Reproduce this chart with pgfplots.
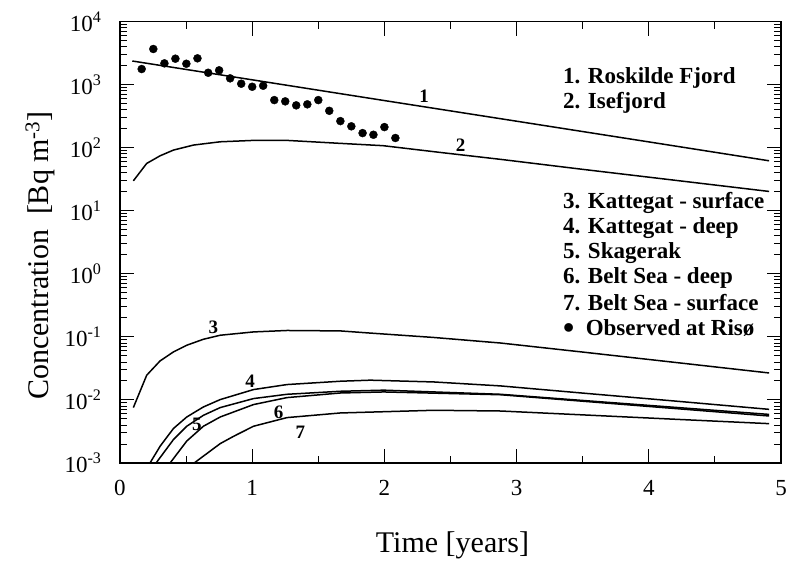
\documentclass[border=0pt]{standalone}
\usepackage{fontspec}
\setmainfont{Liberation Serif}
\usepackage{pgfplots}
\pgfplotsset{compat=1.18}

\pgfplotsset{
  curve/.style={black, solid, no markers, line width=1.5bp, line join=round},
}
\tikzset{
  curvelabel/.style={font=\fontsize{19bp}{21bp}\selectfont\bfseries, inner sep=0pt},
  legtext/.style={font=\fontsize{23bp}{25bp}\selectfont\bfseries, anchor=west, inner sep=0pt},
}

\begin{document}
\begin{tikzpicture}
\begin{axis}[
  name=ax,
  scale only axis,
  width=661bp,
  height=441.3bp,
  xmin=0, xmax=5,
  ymode=log,
  ymin=1e-3, ymax=1e4,
  xtick={0,1,2,3,4,5},
  minor x tick num=1,
  ytick={1e-3,1e-2,1e-1,1,1e1,1e2,1e3,1e4},
  yticklabels={10\textsuperscript{-3},10\textsuperscript{-2},10\textsuperscript{-1},
    10\textsuperscript{0},10\textsuperscript{1},10\textsuperscript{2},
    10\textsuperscript{3},10\textsuperscript{4}},
  tick align=inside,
  major tick length=14bp,
  minor tick length=7bp,
  axis line style={line width=1.6bp},
  every tick/.style={black, line width=1bp},
  tick label style={font=\fontsize{23bp}{25bp}\selectfont},
  /pgf/number format/assume math mode=true,
  xticklabel shift=14bp,
  yticklabel shift=15bp,
  xlabel={Time [years]},
  ylabel={Concentration\ \ [Bq m\textsuperscript{-3}]},
  every axis x label/.style={at={(axis description cs:0.503,-0.186)}, anchor=center,
    font=\fontsize{30bp}{32bp}\selectfont},
  every axis y label/.style={at={(axis description cs:-0.121,0.47)}, anchor=center, rotate=90,
    font=\fontsize{30bp}{32bp}\selectfont},
]
  % 1. Roskilde Fjord
  \addplot[curve] coordinates {
    (0.093, 2380) (1, 1197) (2, 561) (3, 264) (4, 124) (4.91, 62.2)
  };
  % 2. Isefjord
  \addplot[curve] coordinates {
    (0.101, 29.9) (0.202, 56.5) (0.303, 74.6) (0.404, 91.9) (0.555, 110.4)
    (0.758, 124.5) (1.01, 131) (1.263, 131) (1.667, 117.5) (1.99, 108)
    (2.42, 84.5) (2.88, 65.5) (3.5, 45.5) (4.2, 30.5) (4.91, 20.3)
  };
  % 3. Kattegat - surface
  \addplot[curve] coordinates {
    (0.101, 0.00757) (0.202, 0.0247) (0.303, 0.0416) (0.404, 0.0578)
    (0.505, 0.0738) (0.631, 0.0918) (0.758, 0.1063) (1.01, 0.120)
    (1.263, 0.1265) (1.667, 0.1245) (1.869, 0.116) (2.374, 0.098)
    (2.879, 0.080) (3.5, 0.0575) (4.2, 0.0394) (4.91, 0.0268)
  };
  % 4. Kattegat - deep
  \addplot[curve] coordinates {
    (0.227, 0.001) (0.303, 0.00184) (0.404, 0.00352) (0.505, 0.00537)
    (0.631, 0.00775) (0.758, 0.01014) (1.01, 0.01462) (1.263, 0.01755)
    (1.667, 0.01982) (1.894, 0.0206) (2.374, 0.0193) (2.879, 0.0167)
    (3.5, 0.01285) (4.2, 0.0096) (4.91, 0.0071)
  };
  % 5. Skagerak
  \addplot[curve] coordinates {
    (0.273, 0.001) (0.404, 0.00235) (0.505, 0.00383) (0.631, 0.00571)
    (0.758, 0.00757) (1.01, 0.01052) (1.263, 0.0123) (1.667, 0.01374)
    (1.995, 0.0143) (2.879, 0.0123) (3.5, 0.00982) (4.2, 0.00763) (4.91, 0.0059)
  };
  % 6. Belt Sea - deep
  \addplot[curve] coordinates {
    (0.379, 0.001) (0.505, 0.00223) (0.631, 0.00383) (0.758, 0.00537)
    (1.01, 0.00845) (1.263, 0.0109) (1.667, 0.0129) (1.995, 0.0134)
    (2.879, 0.0121) (3.5, 0.00955) (4.2, 0.00731) (4.91, 0.00557)
  };
  % 7. Belt Sea - surface
  \addplot[curve] coordinates {
    (0.561, 0.001) (0.758, 0.00203) (0.859, 0.00265) (1.01, 0.00383)
    (1.263, 0.00525) (1.667, 0.00622) (2.374, 0.00686) (2.879, 0.00668)
    (3.5, 0.0058) (4.2, 0.00494) (4.91, 0.00421)
  };
  % observed at Risoe
  \addplot[black, only marks, mark=*, mark size=4bp] coordinates {
    (0.164, 1775) (0.252, 3690) (0.336, 2185) (0.419, 2590) (0.502, 2153)
    (0.586, 2625) (0.667, 1549) (0.75, 1694) (0.833, 1263) (0.917, 1038)
    (1.0, 929) (1.083, 964) (1.167, 571) (1.25, 545) (1.333, 471)
    (1.417, 489) (1.5, 571) (1.583, 386) (1.667, 265) (1.75, 219)
    (1.835, 171) (1.917, 161) (2.0, 213) (2.083, 143)
  };

  \node[curvelabel] at (axis cs:2.30,646) {1};
  \node[curvelabel] at (axis cs:2.576,110) {2};
  \node[curvelabel] at (axis cs:0.707,0.144) {3};
  \node[curvelabel] at (axis cs:0.985,0.0198) {4};
  \node[curvelabel] at (axis cs:0.581,0.00406) {5};
  \node[curvelabel] at (axis cs:1.2,0.00646) {6};
  \node[curvelabel] at (axis cs:1.364,0.0031) {7};

  \node[legtext] at (axis description cs:0.670,0.8724) {1. Roskilde Fjord};
  \node[legtext] at (axis description cs:0.670,0.8158) {2. Isefjord};
  \node[legtext] at (axis description cs:0.670,0.5892) {3. Kattegat - surface};
  \node[legtext] at (axis description cs:0.670,0.5325) {4. Kattegat - deep};
  \node[legtext] at (axis description cs:0.670,0.4758) {5. Skagerak};
  \node[legtext] at (axis description cs:0.670,0.4192) {6. Belt Sea - deep};
  \node[legtext] at (axis description cs:0.670,0.3625) {7. Belt Sea - surface};
  \node[legtext] at (axis description cs:0.670,0.3059)
    {\smash{\raisebox{-3bp}{\fontsize{32bp}{32bp}\selectfont\textbullet}}\ \ Observed at Risø};
\end{axis}
\pgfresetboundingbox\path
  (ax.south west) -- ++(-120bp,-98bp)
  rectangle (ax.north east) -- ++(6bp,21.7bp);
\end{tikzpicture}
\end{document}
